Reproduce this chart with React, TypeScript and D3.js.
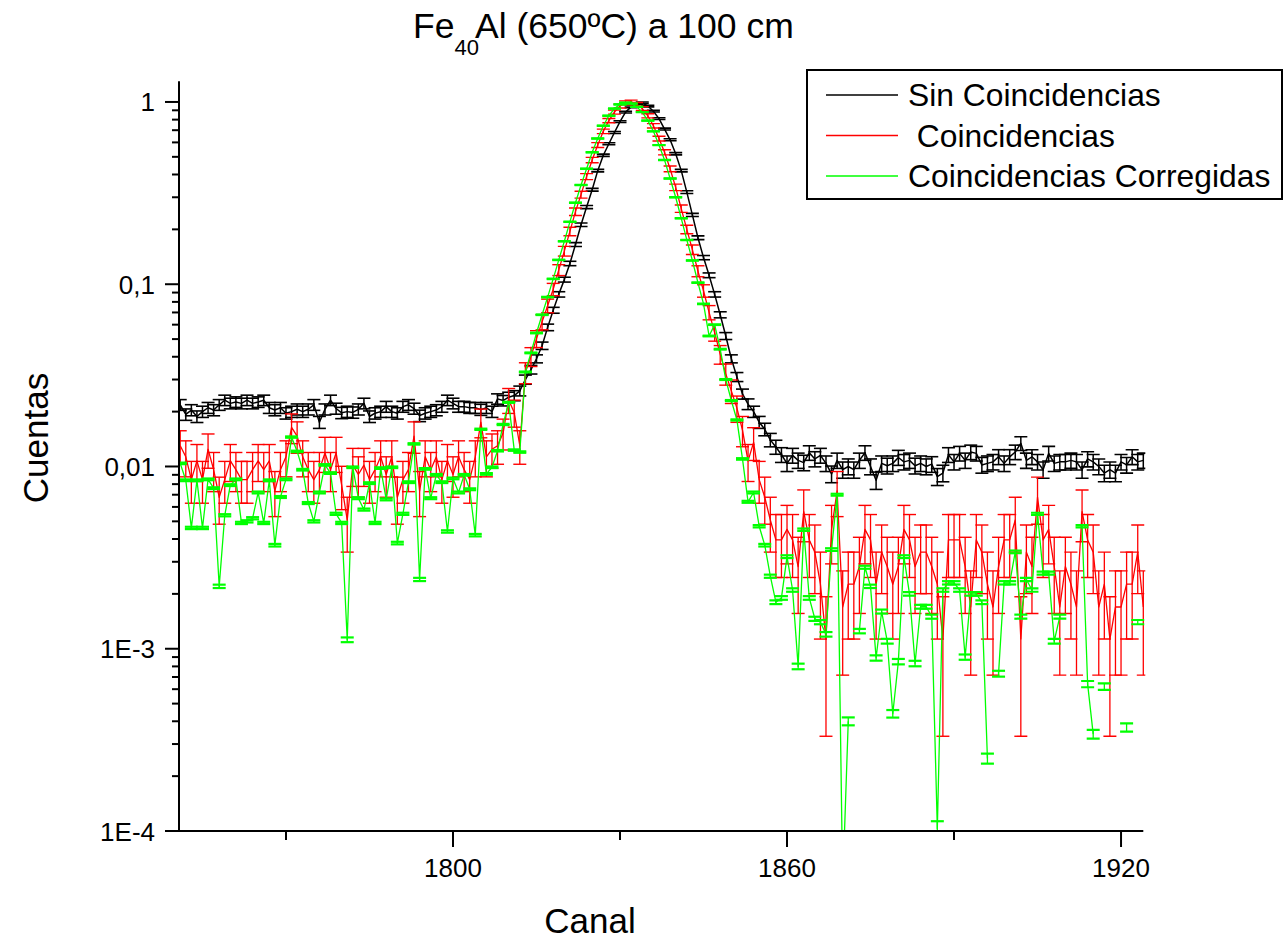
import { useEffect, useRef } from "react"
import * as d3 from "d3"

// Channels 1751..1924, one point per channel
const channels = d3.range(1751, 1925)

// "Sin Coincidencias" (normalised counts)
const sinCoincidencias = [
  0.0218, 0.0193, 0.0204, 0.0188, 0.02, 0.021, 0.0204, 0.0218, 0.0231, 0.0222,
  0.0226, 0.0222, 0.0231, 0.0222, 0.0226, 0.0231, 0.021, 0.0204, 0.021, 0.0196,
  0.02, 0.0206, 0.02, 0.0206, 0.0218, 0.0175, 0.0206, 0.0231, 0.0208, 0.0197,
  0.02, 0.0198, 0.0206, 0.0222, 0.0188, 0.0196, 0.02, 0.0213, 0.02, 0.0196,
  0.0213, 0.0218, 0.0208, 0.019, 0.0196, 0.02, 0.0204, 0.0213, 0.0231, 0.0222,
  0.0213, 0.0213, 0.021, 0.021, 0.0205, 0.021, 0.02, 0.0235, 0.023, 0.024,
  0.0245, 0.026, 0.03, 0.034, 0.039, 0.046, 0.058, 0.072, 0.088, 0.106,
  0.13, 0.165, 0.212, 0.265, 0.33, 0.42, 0.51, 0.59, 0.68, 0.78,
  0.88, 0.94, 0.98, 0.99, 0.95, 0.89, 0.81, 0.71, 0.62, 0.52,
  0.42, 0.32, 0.24, 0.18, 0.14, 0.112, 0.088, 0.068, 0.052, 0.039,
  0.031, 0.025, 0.022, 0.02, 0.0175, 0.016, 0.014, 0.0128, 0.0116, 0.0104,
  0.0115, 0.0108, 0.0105, 0.0119, 0.011, 0.0115, 0.0104, 0.0091, 0.0108, 0.0096,
  0.01, 0.0096, 0.0108, 0.0119, 0.01, 0.0084, 0.0104, 0.0101, 0.0104, 0.0112,
  0.0106, 0.0108, 0.0101, 0.0104, 0.01, 0.0103, 0.0088, 0.0092, 0.0116, 0.0106,
  0.0118, 0.0108, 0.012, 0.0118, 0.0102, 0.0104, 0.0106, 0.0113, 0.0104, 0.0113,
  0.012, 0.0134, 0.0108, 0.0113, 0.0106, 0.0096, 0.0118, 0.0104, 0.0106, 0.0106,
  0.0108, 0.0106, 0.0096, 0.011, 0.0106, 0.01, 0.0092, 0.0096, 0.0092, 0.0106,
  0.0102, 0.0113, 0.0106, 0.0108,
]

// "Coincidencias" raw counts (peak = COINC_NORM)
const coincidenciasCounts = [
  23, 20, 15, 19, 15, 22, 17, 12, 15, 19,
  17, 15, 15, 17, 19, 17, 19, 13, 17, 20,
  29, 26, 20, 17, 15, 17, 21, 17, 21, 14,
  9, 18, 16, 18, 15, 17, 20, 16, 20, 12,
  15, 17, 26, 13, 20, 17, 20, 15, 19, 16,
  20, 17, 15, 20, 31, 20, 22, 23, 27, 41,
  35, 23, 58, 71, 89, 110, 135, 166, 212, 269,
  345, 443, 549, 690, 850, 1027, 1221, 1398, 1558, 1682,
  1752, 1770, 1717, 1628, 1487, 1310, 1115, 938, 761, 602,
  460, 354, 274, 209, 163, 124, 96, 73, 57, 46,
  37, 28, 19, 24, 15, 12, 9, 7, 7, 8,
  7, 5, 10, 7, 6, 4, 2, 8, 13, 3,
  4, 4, 5, 8, 7, 4, 6, 5, 4, 5,
  8, 7, 5, 6, 6, 5, 4, 2, 7, 7,
  7, 5, 3, 7, 6, 4, 3, 5, 7, 7,
  9, 2, 6, 5, 12, 7, 8, 5, 3, 5,
  4, 3, 10, 7, 6, 3, 4, 2, 3, 3,
  4, 4, 6, 3,
]

// "Coincidencias Corregidas" (null = not positive, not drawn on log axis)
const corregidas: (number | null)[] = [
  0.0104, 0.0084, 0.0046, 0.0084, 0.0046, 0.0085, 0.0076, 0.0022, 0.0054, 0.0079,
  0.0085, 0.0049, 0.005, 0.0052, 0.0072, 0.0049, 0.0084, 0.0037, 0.0068, 0.0085,
  0.0145, 0.0121, 0.0096, 0.0063, 0.005, 0.0072, 0.0102, 0.0092, 0.0055, 0.0049,
  0.00112, 0.0099, 0.0067, 0.0058, 0.0081, 0.0049, 0.0098, 0.0066, 0.0099, 0.0038,
  0.0055, 0.0082, 0.0133, 0.0024, 0.0097, 0.0067, 0.009, 0.0082, 0.0044, 0.0086,
  0.0072, 0.009, 0.0075, 0.0042, 0.016, 0.0091, 0.0099, 0.0122, 0.017, 0.0225,
  0.0123, 0.012, 0.033, 0.042, 0.054, 0.068, 0.085, 0.107, 0.136, 0.172,
  0.22, 0.28, 0.35, 0.43, 0.53, 0.63, 0.74, 0.84, 0.92, 0.97,
  0.99, 0.98, 0.94, 0.88, 0.79, 0.69, 0.58, 0.48, 0.38, 0.3,
  0.23, 0.175, 0.135, 0.102, 0.078, 0.052, 0.06, 0.044, 0.03, 0.023,
  0.018, 0.011, 0.0064, 0.0072, 0.0047, 0.0037, 0.0025, 0.0018, 0.0019, 0.0032,
  0.0021, 0.0008, 0.0045, 0.0019, 0.00146, 0.0014, 0.0012, 0.0035, 0.007, 0.00005,
  0.0004, null, 0.00125, 0.0028, 0.0022, 0.00089, 0.0016, 0.0011, 0.00044, 0.00085,
  0.0032, 0.002, 0.00083, 0.0017, 0.0017, 0.0015, 0.000103, 0.0021, 0.0023, 0.0023,
  0.0021, 0.0009, 0.002, 0.002, 0.0018, 0.00025, null, 0.00073, 0.0023, 0.0023,
  0.0034, 0.0015, 0.0024, 0.0021, 0.0055, 0.0026, 0.0026, 0.0011, 0.0015, null,
  null, null, 0.0047, 0.00064, 0.00034, null, 0.00062, null, null, null,
  0.00037, null, 0.0014, null,
]

// statistics used for the error bars (sqrt of counts)
const SIN_NORM = 10000
const COINC_NORM = 1770
const CORR_NORM = 1000000

const yTicks = [1, 0.1, 0.01, 0.001, 0.0001]
const yTickLabels = ["1", "0,1", "0,01", "1E-3", "1E-4"]
const xTicks = [1800, 1860, 1920]
const xMinorTicks = [1770, 1830, 1890]
const legendLabels = ["Sin Coincidencias", " Coincidencias", "Coincidencias Corregidas"]
const seriesColors = ["#000000", "#ff0000", "#00ff00"]

type Pt = { ch: number; v: number | null; err: number }

export default function App() {
  const svgRef = useRef<SVGSVGElement>(null)

  useEffect(() => {
    if (!svgRef.current) return
    const svg = d3.select(svgRef.current)
    svg.selectAll("*").remove()

    const font = "'Liberation Sans', Arial, sans-serif"
    const left = 179
    const right = 1143.3
    const top = 81.2
    const bottom = 831

    const x = d3.scaleLinear().domain([1750.78, 1924]).range([left, right])
    const y = d3.scaleLog().domain([0.0001, 1.3]).range([bottom, top])

    svg.append("rect").attr("width", 1283).attr("height", 942).attr("fill", "white")

    svg
      .append("defs")
      .append("clipPath")
      .attr("id", "plot-clip")
      .append("rect")
      .attr("x", left)
      .attr("y", top - 4)
      .attr("width", right - left + 2)
      .attr("height", bottom - top + 4)

    const black: Pt[] = channels.map((ch, i) => ({
      ch,
      v: sinCoincidencias[i],
      err: Math.sqrt(sinCoincidencias[i] / SIN_NORM),
    }))
    const red: Pt[] = channels.map((ch, i) => ({
      ch,
      v: coincidenciasCounts[i] / COINC_NORM,
      err: Math.sqrt(coincidenciasCounts[i]) / COINC_NORM,
    }))
    const green: Pt[] = channels.map((ch, i) => {
      const v = corregidas[i]
      return { ch, v, err: v == null ? 0 : Math.sqrt(v / CORR_NORM) }
    })

    const plot = svg.append("g").attr("clip-path", "url(#plot-clip)")

    const drawSeries = (pts: Pt[], color: string, lineW: number, capW: number) => {
      const g = plot.append("g")
      const line = d3
        .line<Pt>()
        .defined((d) => d.v != null && d.v > 0)
        .x((d) => x(d.ch))
        .y((d) => y(d.v as number))
      g.append("path")
        .datum(pts)
        .attr("d", line)
        .attr("fill", "none")
        .attr("stroke", color)
        .attr("stroke-width", lineW)
        .attr("stroke-linejoin", "round")

      const valid = pts.filter((d) => d.v != null && d.v > 0)
      const half = 6.5
      valid.forEach((d) => {
        const v = d.v as number
        const cx = x(d.ch)
        const yHi = y(v + d.err)
        const lo = v - d.err
        const yLo = lo > 0 ? y(lo) : bottom + 10
        g.append("line")
          .attr("x1", cx)
          .attr("x2", cx)
          .attr("y1", yHi)
          .attr("y2", yLo)
          .attr("stroke", color)
          .attr("stroke-width", lineW)
        ;[yHi, yLo].forEach((yy) => {
          g.append("line")
            .attr("x1", cx - half)
            .attr("x2", cx + half)
            .attr("y1", yy)
            .attr("y2", yy)
            .attr("stroke", color)
            .attr("stroke-width", capW)
        })
      })
    }

    drawSeries(black, seriesColors[0], 1.5, 1.6)
    drawSeries(red, seriesColors[1], 1.3, 1.4)
    drawSeries(green, seriesColors[2], 1.3, 2.2)

    // Axes
    const axes = svg.append("g").attr("stroke", "black").attr("stroke-width", 2)
    axes.append("line").attr("x1", left).attr("x2", left).attr("y1", top).attr("y2", bottom + 1)
    axes.append("line").attr("x1", left - 1).attr("x2", right).attr("y1", bottom).attr("y2", bottom)

    // y ticks (major + log minor)
    const minor: number[] = []
    for (let e = -4; e <= 0; e++) {
      for (let k = 2; k <= 9; k++) {
        const v = k * Math.pow(10, e)
        if (v <= 1.3) minor.push(v)
      }
    }
    minor.forEach((v) => {
      axes.append("line").attr("x1", left - 7).attr("x2", left).attr("y1", y(v)).attr("y2", y(v))
    })
    yTicks.forEach((v, i) => {
      axes.append("line").attr("x1", left - 14).attr("x2", left).attr("y1", y(v)).attr("y2", y(v))
      svg
        .append("text")
        .attr("x", 155)
        .attr("y", y(v) + 9.5)
        .attr("text-anchor", "end")
        .style("font-family", font)
        .style("font-size", "26px")
        .text(yTickLabels[i])
    })

    // x ticks
    xMinorTicks.forEach((v) => {
      axes.append("line").attr("x1", x(v)).attr("x2", x(v)).attr("y1", bottom).attr("y2", bottom + 9)
    })
    xTicks.forEach((v) => {
      axes.append("line").attr("x1", x(v)).attr("x2", x(v)).attr("y1", bottom).attr("y2", bottom + 16)
      svg
        .append("text")
        .attr("x", x(v))
        .attr("y", 877)
        .attr("text-anchor", "middle")
        .style("font-family", font)
        .style("font-size", "26px")
        .text(String(v))
    })

    // Axis titles
    svg
      .append("text")
      .attr("x", 590)
      .attr("y", 933)
      .attr("text-anchor", "middle")
      .style("font-family", font)
      .style("font-size", "35px")
      .text("Canal")

    svg
      .append("text")
      .attr("transform", "translate(48,438) rotate(-90)")
      .attr("text-anchor", "middle")
      .style("font-family", font)
      .style("font-size", "35px")
      .text("Cuentas")

    // Title
    const title = svg
      .append("text")
      .attr("x", 413)
      .attr("y", 37.5)
      .style("font-family", font)
      .style("font-size", "35.5px")
    title.append("tspan").text("Fe")
    title.append("tspan").attr("dy", 17).style("font-size", "22px").text("40")
    title.append("tspan").attr("x", 475).attr("dy", -17).text("Al (650ºC) a 100 cm")

    // Legend
    const lg = svg.append("g")
    lg.append("rect")
      .attr("x", 807)
      .attr("y", 70)
      .attr("width", 475)
      .attr("height", 129)
      .attr("fill", "white")
      .attr("stroke", "black")
      .attr("stroke-width", 2)
    legendLabels.forEach((label, i) => {
      const ly = 95 + i * 40.5
      lg.append("line")
        .attr("x1", 826)
        .attr("x2", 898)
        .attr("y1", ly)
        .attr("y2", ly)
        .attr("stroke", seriesColors[i])
        .attr("stroke-width", 1.3)
      lg.append("text")
        .attr("x", 908)
        .attr("y", ly + 11)
        .style("font-family", font)
        .style("font-size", "31.8px")
        .style("white-space", "pre")
        .attr("xml:space", "preserve")
        .text(label)
    })
  }, [])

  return (
    <div style={{ position: "absolute", left: 0, top: 0, width: 1283, height: 942 }}>
      <svg ref={svgRef} width={1283} height={942}></svg>
    </div>
  )
}
